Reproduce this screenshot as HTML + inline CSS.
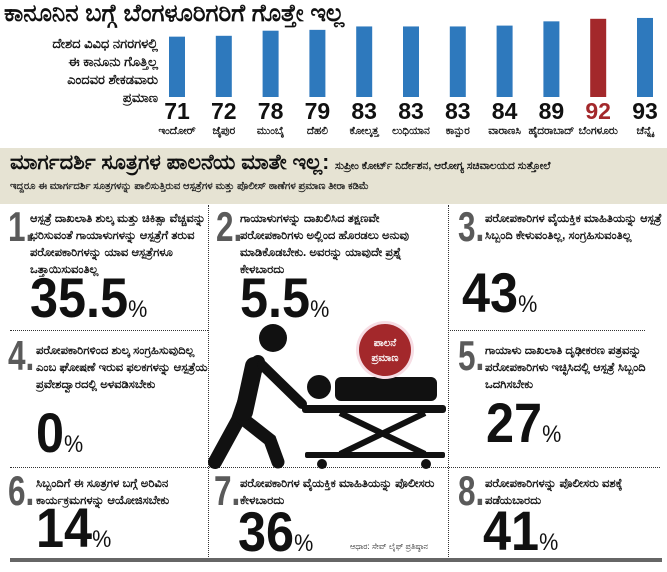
<!DOCTYPE html>
<html><head><meta charset="utf-8">
<style>
body{margin:0;width:667px;height:571px;background:#fff;overflow:hidden;font-family:"Liberation Sans",sans-serif;position:relative}
.abs{position:absolute}
.title{left:4px;top:0;font-size:24px;font-weight:bold;color:#111;white-space:nowrap}
.left{left:0px;top:35px;width:158px;text-align:right;font-size:13px;font-weight:bold;line-height:18px;color:#111}
.band{left:0;top:148px;width:667px;height:56px;background:#e6e3d3}
.bh{left:10px;top:151px;font-size:21px;font-weight:bold;white-space:nowrap;color:#111}
.bh span{font-size:10.5px;font-weight:bold}
.bs{left:10px;top:181px;font-size:10px;font-weight:bold;white-space:nowrap;color:#222}
.num{font-size:42px;font-weight:bold;color:#5a5a5a;font-family:"Liberation Sans Narrow","Liberation Sans",sans-serif;line-height:42px;transform:scaleX(0.75);transform-origin:left top}
.txt{font-size:11.5px;font-weight:bold;line-height:17px;color:#111}
.big{font-family:"Liberation Sans Narrow","Liberation Sans",sans-serif;font-weight:bold;font-size:56px;line-height:56px;color:#111;white-space:nowrap;transform:scaleX(0.9);transform-origin:left top}
.big small{font-size:24px;font-weight:normal}
.vd{border-left:1px dotted #333;width:0}
.hd{border-top:1px dotted #333;height:0}
</style></head><body>
<div class="abs title">ಕಾನೂನಿನ ಬಗ್ಗೆ ಬೆಂಗಳೂರಿಗರಿಗೆ ಗೊತ್ತೇ ಇಲ್ಲ</div>
<div class="abs left">ದೇಶದ ವಿವಿಧ ನಗರಗಳಲ್ಲಿ<br>ಈ ಕಾನೂನು ಗೊತ್ತಿಲ್ಲ<br>ಎಂದವರ ಶೇಕಡವಾರು<br>ಪ್ರಮಾಣ</div>
<svg class="abs" style="left:0;top:0" width="667" height="145" id="chart"></svg>
<script>
const cities=["ಇಂದೋರ್","ಜೈಪುರ","ಮುಂಬೈ","ದೆಹಲಿ","ಕೋಲ್ಕತ್ತ","ಲುಧಿಯಾನ","ಕಾನ್ಪುರ","ವಾರಾಣಸಿ","ಹೈದರಾಬಾದ್","ಬೆಂಗಳೂರು","ಚೆನ್ನೈ"];
const values=[71,72,78,79,83,83,83,84,89,92,93];
const highlight=[false,false,false,false,false,false,false,false,false,true,false];
const svg=document.getElementById('chart');const NS='http://www.w3.org/2000/svg';
const x=i=>177+i*46.8, y=v=>97-v*0.85;
values.forEach((v,i)=>{
 const r=document.createElementNS(NS,'rect');
 
 
 r.setAttribute('x',x(i)-8);r.setAttribute('y',y(v));r.setAttribute('width',16);r.setAttribute('height',97-y(v));
 r.setAttribute('fill',highlight[i]?'#a3282b':'#2e79bd');svg.appendChild(r);
 const t=document.createElementNS(NS,'text');
 
 
 t.setAttribute('x',x(i));t.setAttribute('y',119);t.setAttribute('text-anchor','middle');
 t.setAttribute('font-size','23');t.setAttribute('font-weight','bold');t.setAttribute('font-family','Liberation Sans Narrow, Liberation Sans, sans-serif');
 t.setAttribute('fill',highlight[i]?'#a3282b':'#111');t.textContent=v;svg.appendChild(t);
 const c=document.createElementNS(NS,'text');
 
 
 c.setAttribute('x',x(i));c.setAttribute('y',134);c.setAttribute('text-anchor','middle');
 c.setAttribute('font-size','10.5');c.setAttribute('font-weight','bold');c.setAttribute('fill','#111');c.textContent=cities[i];svg.appendChild(c);
});
</script>
<div class="abs band"></div>
<div class="abs bh">ಮಾರ್ಗದರ್ಶಿ ಸೂತ್ರಗಳ ಪಾಲನೆಯ ಮಾತೇ ಇಲ್ಲ: <span>ಸುಪ್ರೀಂ ಕೋರ್ಟ್ ನಿರ್ದೇಶನ, ಆರೋಗ್ಯ ಸಚಿವಾಲಯದ ಸುತ್ತೋಲೆ</span></div>
<div class="abs bs">ಇದ್ದರೂ ಈ ಮಾರ್ಗದರ್ಶಿ ಸೂತ್ರಗಳನ್ನು ಪಾಲಿಸುತ್ತಿರುವ ಆಸ್ಪತ್ರೆಗಳ ಮತ್ತು ಪೊಲೀಸ್ ಠಾಣೆಗಳ ಪ್ರಮಾಣ ತೀರಾ ಕಡಿಮೆ</div>

<div class="abs vd" style="left:208px;top:205px;height:352px"></div>
<div class="abs vd" style="left:448px;top:205px;height:352px"></div>
<div class="abs hd" style="left:10px;top:330px;width:198px"></div>
<div class="abs hd" style="left:450px;top:330px;width:195px"></div>
<div class="abs hd" style="left:10px;top:467px;width:650px"></div>
<div class="abs" style="left:10px;top:558px;width:652px;height:4px;background:#666"></div>

<div class="abs num" style="left:8px;top:206px">1.</div>
<div class="abs txt" style="left:30px;top:211px;width:178px">ಆಸ್ಪತ್ರೆ ದಾಖಲಾತಿ ಶುಲ್ಕ ಮತ್ತು ಚಿಕಿತ್ಸಾ ವೆಚ್ಚವನ್ನು ಭರಿಸುವಂತೆ ಗಾಯಾಳುಗಳನ್ನು ಆಸ್ಪತ್ರೆಗೆ ತರುವ ಪರೋಪಕಾರಿಗಳನ್ನು ಯಾವ ಆಸ್ಪತ್ರೆಗಳೂ ಒತ್ತಾಯಿಸುವಂತಿಲ್ಲ</div>
<div class="abs big" style="left:30px;top:270px">35.5<small>%</small></div>

<div class="abs num" style="left:216px;top:206px">2.</div>
<div class="abs txt" style="left:240px;top:211px;width:205px">ಗಾಯಾಳುಗಳನ್ನು ದಾಖಲಿಸಿದ ತಕ್ಷಣವೇ ಪರೋಪಕಾರಿಗಳು ಅಲ್ಲಿಂದ ಹೊರಡಲು ಅನುವು ಮಾಡಿಕೊಡಬೇಕು. ಅವರನ್ನು ಯಾವುದೇ ಪ್ರಶ್ನೆ ಕೇಳಬಾರದು</div>
<div class="abs big" style="left:240px;top:270px">5.5<small>%</small></div>

<div class="abs num" style="left:458px;top:206px">3.</div>
<div class="abs txt" style="left:485px;top:211px;width:178px">ಪರೋಪಕಾರಿಗಳ ವೈಯಕ್ತಿಕ ಮಾಹಿತಿಯನ್ನು ಆಸ್ಪತ್ರೆ ಸಿಬ್ಬಂದಿ ಕೇಳುವಂತಿಲ್ಲ, ಸಂಗ್ರಹಿಸುವಂತಿಲ್ಲ</div>
<div class="abs big" style="left:462px;top:265px">43<small>%</small></div>

<div class="abs num" style="left:8px;top:335px">4.</div>
<div class="abs txt" style="left:36px;top:343px;width:172px">ಪರೋಪಕಾರಿಗಳಿಂದ ಶುಲ್ಕ ಸಂಗ್ರಹಿಸುವುದಿಲ್ಲ ಎಂಬ ಘೋಷಣೆ ಇರುವ ಫಲಕಗಳನ್ನು ಆಸ್ಪತ್ರೆಯ ಪ್ರವೇಶದ್ವಾರದಲ್ಲಿ ಅಳವಡಿಸಬೇಕು</div>
<div class="abs big" style="left:36px;top:405px">0<small>%</small></div>

<div class="abs num" style="left:458px;top:335px">5.</div>
<div class="abs txt" style="left:485px;top:343px;width:178px">ಗಾಯಾಳು ದಾಖಲಾತಿ ದೃಢೀಕರಣ ಪತ್ರವನ್ನು ಪರೋಪಕಾರಿಗಳು ಇಚ್ಛಿಸಿದಲ್ಲಿ ಆಸ್ಪತ್ರೆ ಸಿಬ್ಬಂದಿ ಒದಗಿಸಬೇಕು</div>
<div class="abs big" style="left:486px;top:395px">27<small>%</small></div>

<div class="abs num" style="left:8px;top:470px">6.</div>
<div class="abs txt" style="left:36px;top:476px;width:172px">ಸಿಬ್ಬಂದಿಗೆ ಈ ಸೂತ್ರಗಳ ಬಗ್ಗೆ ಅರಿವಿನ ಕಾರ್ಯಕ್ರಮಗಳನ್ನು ಆಯೋಜಿಸಬೇಕು</div>
<div class="abs big" style="left:36px;top:500px">14<small>%</small></div>

<div class="abs num" style="left:214px;top:470px">7.</div>
<div class="abs txt" style="left:240px;top:476px;width:205px">ಪರೋಪಕಾರಿಗಳ ವೈಯಕ್ತಿಕ ಮಾಹಿತಿಯನ್ನು ಪೊಲೀಸರು ಕೇಳಬಾರದು</div>
<div class="abs big" style="left:238px;top:504px">36<small>%</small></div>
<div class="abs" style="left:350px;top:542px;font-size:8px;color:#222;white-space:nowrap">ಆಧಾರ: ಸೇವ್ ಲೈಫ್ ಪ್ರತಿಷ್ಠಾನ</div>

<div class="abs num" style="left:458px;top:470px">8.</div>
<div class="abs txt" style="left:485px;top:476px;width:178px">ಪರೋಪಕಾರಿಗಳನ್ನು ಪೊಲೀಸರು ವಶಕ್ಕೆ ಪಡೆಯಬಾರದು</div>
<div class="abs big" style="left:483px;top:503px">41<small>%</small></div>

<svg class="abs" style="left:0;top:0" width="667" height="571">
 <circle cx="273" cy="338" r="14" fill="#111"/>
 <path d="M258 362 L238 420 L215 462" stroke="#111" stroke-width="14" stroke-linecap="round" fill="none"/>
 <path d="M242 418 L270 440 L278 462" stroke="#111" stroke-width="13" stroke-linecap="round" fill="none"/>
 <path d="M254 366 L244 412" stroke="#111" stroke-width="18" stroke-linecap="round"/>
 <path d="M262 365 L302 404" stroke="#111" stroke-width="10" stroke-linecap="round"/>
 <circle cx="319" cy="387" r="12" fill="#111"/>
 <rect x="335" y="377" width="102" height="24" rx="6" fill="#111"/>
 <rect x="302" y="405" width="144" height="8" rx="3" fill="#111"/>
 <path d="M340 413 L425 454 M425 413 L340 454" stroke="#111" stroke-width="6"/>
 <rect x="305" y="452" width="140" height="6" rx="2" fill="#111"/>
 <circle cx="322" cy="464" r="5" fill="#111"/>
 <circle cx="426" cy="464" r="5" fill="#111"/>
 <circle cx="385" cy="350" r="29" fill="#f6dde4"/>
 <circle cx="385" cy="350" r="26" fill="#a3282b"/>
 <text x="385" y="346" text-anchor="middle" font-size="10" font-weight="bold" fill="#fff">ಪಾಲನೆ</text>
 <text x="385" y="361" text-anchor="middle" font-size="10" font-weight="bold" fill="#fff">ಪ್ರಮಾಣ</text>
</svg>
</body></html>
